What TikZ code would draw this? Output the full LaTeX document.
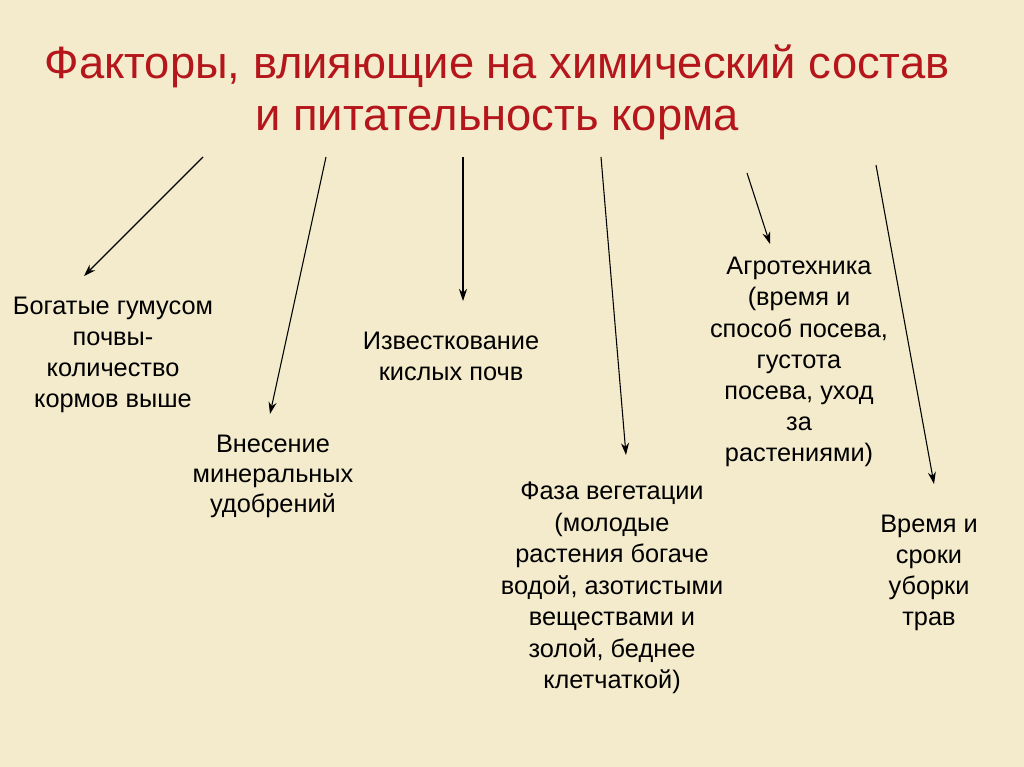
\documentclass[tikz,border=0pt]{standalone}
\usepackage{fontspec}
\setmainfont{Liberation Sans}
\usetikzlibrary{arrows.meta}
\definecolor{bg}{HTML}{F3EBCB}
\definecolor{titlered}{HTML}{B5161C}
\begin{document}
\begin{tikzpicture}[x=0.75pt,y=-0.75pt,
  txt/.style={align=center,font=\fontsize{19}{23.3}\selectfont,inner sep=0pt},
  arr/.style={-{Stealth[length=9pt,width=6pt]},line width=0.8pt}]
\fill[bg] (0,0) rectangle (1024,767);
\useasboundingbox (0,0) rectangle (1024,767);
\node[align=center,font=\fontsize{34}{39}\selectfont,text=titlered,inner sep=0pt] (title) at (497,92)
  {Факторы, влияющие на химический состав\\и питательность корма};
\node[txt] (t1) at (113,355) {Богатые гумусом\\почвы-\\количество\\кормов выше};
\node[txt,font=\fontsize{19}{22.5}\selectfont] (t2) at (273,476) {Внесение\\минеральных\\удобрений};
\node[txt] (t3) at (451,356) {Известкование\\кислых почв};
\node[txt,font=\fontsize{19}{23.6}\selectfont] (t4) at (612,588) {Фаза вегетации\\(молодые\\растения богаче\\водой, азотистыми\\веществами  и\\золой, беднее\\клетчаткой)};
\node[txt] (t5) at (799,362) {Агротехника\\(время и\\способ посева,\\густота\\посева, уход\\за\\растениями)};
\node[txt] (t6) at (929,573) {Время и\\сроки\\уборки\\трав};
\coordinate (s1) at (203,157); \coordinate (e1) at (84,276);
\coordinate (s2) at (326,157); \coordinate (e2) at (270,414);
\coordinate (s3) at (463,157); \coordinate (e3) at (463,301);
\coordinate (s4) at (601,157); \coordinate (e4) at (626,455);
\coordinate (s5) at (747,173); \coordinate (e5) at (770,244);
\coordinate (s6) at (876,165); \coordinate (e6) at (934,484);
\foreach \i in {1,...,6} \draw[arr] (s\i) -- (e\i);
\end{tikzpicture}
\end{document}
